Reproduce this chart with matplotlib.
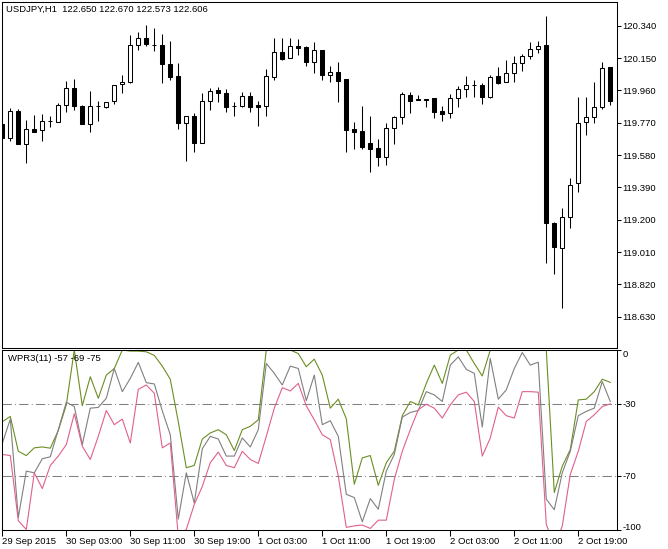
import matplotlib
matplotlib.use('Agg')
import matplotlib.pyplot as plt
import numpy as np

symbol_title = "USDJPY,H1  122.650 122.670 122.573 122.606"
wpr_title = "WPR3(11) -57 -69 -75"

opens = [119.762, 119.678, 119.839, 119.643, 119.733, 119.725, 119.781, 119.776, 119.874, 119.972,
         119.868, 119.761, 119.868, 119.864, 119.898, 119.996, 120.011, 120.227, 120.266, 120.229,
         120.227, 120.113, 120.043, 119.766, 119.809, 119.653, 119.899, 119.962, 119.943, 119.871,
         119.870, 119.927, 119.874, 119.870, 120.040, 120.184, 120.152, 120.221, 120.213, 120.128,
         120.197, 120.050, 120.066, 120.027, 119.733, 119.721, 119.649, 119.620, 119.570, 119.737,
         119.802, 119.933, 119.909, 119.909, 119.915, 119.839, 119.825, 119.913, 119.967, 119.993,
         119.992, 119.923, 120.044, 120.007, 120.060, 120.119, 120.162, 120.202, 120.227, 119.182,
         119.032, 119.214, 119.414, 119.775, 119.806, 119.861, 120.096]
highs = [119.780, 119.855, 119.851, 119.786, 119.815, 119.821, 119.809, 119.886, 120.017, 120.027,
         119.874, 119.956, 119.899, 119.890, 119.992, 120.050, 120.285, 120.301, 120.344, 120.325,
         120.289, 120.250, 120.119, 119.812, 119.825, 119.943, 119.976, 119.982, 119.966, 119.890,
         119.952, 119.952, 119.898, 120.086, 120.266, 120.266, 120.266, 120.262, 120.219, 120.242,
         120.197, 120.103, 120.127, 120.027, 119.772, 119.870, 119.811, 119.673, 119.766, 119.811,
         119.952, 119.952, 119.933, 119.909, 119.915, 119.868, 119.937, 119.986, 120.044, 120.021,
         120.002, 120.050, 120.098, 120.138, 120.162, 120.174, 120.246, 120.248, 120.399, 119.185,
         119.267, 119.443, 119.923, 119.923, 120.011, 120.128, 120.096]
lows = [119.668, 119.664, 119.643, 119.532, 119.717, 119.664, 119.747, 119.772, 119.831, 119.846,
        119.761, 119.717, 119.782, 119.858, 119.878, 119.943, 120.002, 120.197, 120.221, 120.191,
        120.002, 120.021, 119.733, 119.545, 119.600, 119.653, 119.845, 119.890, 119.831, 119.811,
        119.864, 119.835, 119.752, 119.811, 120.021, 120.138, 120.152, 120.168, 120.105, 120.064,
        120.021, 120.007, 119.893, 119.600, 119.616, 119.616, 119.482, 119.517, 119.522, 119.645,
        119.762, 119.827, 119.902, 119.864, 119.800, 119.780, 119.799, 119.864, 119.919, 119.919,
        119.878, 119.913, 119.999, 120.007, 120.011, 120.074, 120.143, 120.180, 118.944, 118.879,
        118.679, 119.150, 119.365, 119.698, 119.770, 119.849, 119.877]
closes = [119.678, 119.839, 119.643, 119.733, 119.717, 119.780, 119.779, 119.874, 119.972, 119.870,
          119.761, 119.868, 119.867, 119.890, 119.992, 120.011, 120.227, 120.266, 120.231, 120.227,
          120.113, 120.040, 119.766, 119.809, 119.653, 119.899, 119.958, 119.946, 119.864, 119.869,
          119.927, 119.864, 119.864, 120.044, 120.184, 120.144, 120.221, 120.211, 120.125, 120.197,
          120.050, 120.066, 120.015, 119.727, 119.717, 119.629, 119.616, 119.570, 119.737, 119.802,
          119.937, 119.899, 119.902, 119.902, 119.835, 119.819, 119.915, 119.967, 119.992, 119.991,
          119.923, 120.040, 120.005, 120.062, 120.121, 120.162, 120.202, 120.224, 119.179, 119.038,
          119.214, 119.404, 119.770, 119.806, 119.862, 120.090, 119.899]

wpr_olive = [-40, -37, -56.4, -58.8, -54.5, -54, -54.7, -44.8, -30.6, 0,
             -31, -14.9, -26.9, -14, -10.3, 0, -0.6, -0.6, -1, -3,
             -9, -16.3, -40, -65.6, -64.3, -49.6, -46.2, -44.4, -47.2, -56,
             -44.4, -42.5, -38.9, 0, 0, 0, 0, -2, -9.3, -5.1,
             -14, -32.4, -27.4, -38.3, -74.8, -60.1, -58.8, -75.4, -62.8, -56.4,
             -36.6, -28.7, -30.6, -18.6, -8.4, -18.6, -2.9, 0, 0, -7.5,
             -14.5, 0, 0, 0, 0, 0, 0, 0, 0, -79.4,
             -64.7, -55.5, -27.8, -27.4, -23.2, -16.3, -18]
wpr_gray = [-52, -38.5, -93.3, -67.5, -68.4, -60.6, -59.5, -44.4, -29.1, -31.5,
            -52.7, -32.4, -32, -26.9, -10.3, -23.2, -15.8, -6.9, -18.2, -18.9,
            -33.9, -47.2, -94.2, -68.4, -85.3, -55, -48.1, -49.6, -59.1, -59.1,
            -49, -54, -44.4, -7.5, -13, -19.5, -9, -10.3, -28.2, -14,
            -41.6, -39.4, -48.1, -80.4, -82.2, -95.7, -82.8, -88.7, -67.5, -58.2,
            -37.4, -34.8, -33.7, -23.2, -25, -28.7, -8.4, -3.8, -10.8, -13,
            -42.9, -4.7, -27.4, -22.2, -10.3, -1.4, -8.4, -6.8, -83.1, -89,
            -68.4, -56.4, -36.6, -34.2, -32.4, -17.6, -28.7]
wpr_pink = [-58.2, -58.8, -95.1, -100, -68.4, -77.2, -64.3, -59.1, -52.7, -35.5,
            -53.6, -61, -48.1, -33.7, -41.6, -38.5, -51.8, -21.9, -19.5, -24.1,
            -54.5, -51.8, -104, -100, -86, -76, -62.8, -56.9, -64.3, -65.6,
            -56.4, -61, -63.2, -48.1, -32.4, -21, -22.8, -18.6, -31.1, -38.9,
            -47.2, -49.9, -70.2, -98.8, -98, -97.5, -99.4, -94.8, -94.8, -72.1,
            -56.4, -44.4, -33.3, -30.2, -32.4, -37.9, -30.6, -25, -23.5, -28.7,
            -59.1, -49, -31.8, -36.6, -37.9, -23.2, -23.2, -23.5, -97, -110,
            -98, -69.3, -56.4, -39.8, -36.1, -31.5, -30]

price_ticks = [120.340, 120.150, 119.960, 119.770, 119.580, 119.390, 119.200, 119.010, 118.820, 118.630]
wpr_ticks = [0, -30, -70, -100]
wpr_levels = [-30, -70]
time_tick_pos = [0, 8, 16, 24, 32, 40, 48, 56, 64, 72]
time_tick_labels = ["29 Sep 2015", "30 Sep 03:00", "30 Sep 11:00", "30 Sep 19:00", "1 Oct 03:00",
                    "1 Oct 11:00", "1 Oct 19:00", "2 Oct 03:00", "2 Oct 11:00", "2 Oct 19:00"]

plt.rcParams['font.family'] = ['Liberation Sans', 'DejaVu Sans']
FS = 6.8
LW = 0.75

W, H = 668, 549
fig = plt.figure(figsize=(W / 100, H / 100), dpi=100)
fig.patch.set_facecolor('white')


def axrect(l, t, r, b):
    return [l / W, 1 - b / H, (r - l) / W, (b - t) / H]


ax1 = fig.add_axes(axrect(2, 2.3, 617, 348))
ax2 = fig.add_axes(axrect(2, 350, 617, 529.5))

x = np.arange(len(opens))
o = np.array(opens); h = np.array(highs); l = np.array(lows); c = np.array(closes)
up = c >= o

ax1.vlines(x, l, h, color='black', lw=LW, zorder=1)
ax1.bar(x, np.abs(c - o), bottom=np.minimum(o, c), width=0.55,
        color=np.where(up, 'white', 'black'), edgecolor='black', linewidth=LW, zorder=2)

xl = (-0.0375, 76.84)
ax1.set_xlim(*xl)
ax1.set_ylim(118.446, 120.478)
ax1.set_xticks([])
ax1.yaxis.tick_right()
ax1.set_yticks(price_ticks)
ax1.set_yticklabels([f"{v:.3f}" for v in price_ticks])
ax1.tick_params(axis='y', direction='out', length=3, width=LW, pad=1, labelsize=FS)

fig.text(6 / W, 1 - 9.5 / H, symbol_title, ha='left', va='center', fontsize=FS)

ax2.plot(x, wpr_olive, color='#6B8E23', lw=0.8, zorder=2)
ax2.plot(x, wpr_gray, color='#808080', lw=0.8, zorder=2)
ax2.plot(x, wpr_pink, color='#E0608F', lw=0.8, zorder=2)
for lv in wpr_levels:
    ax2.axhline(lv, color='#808080', lw=LW, ls=(0, (9, 3, 1, 3)), zorder=1)

ax2.set_xlim(*xl)
ax2.set_ylim(-100, 0)
ax2.yaxis.tick_right()
ax2.set_yticks(wpr_ticks)
ax2.set_yticklabels([str(v) for v in wpr_ticks])
ax2.tick_params(axis='y', direction='out', length=3, width=LW, pad=1, labelsize=FS)
ax2.set_xticks(time_tick_pos)
ax2.set_xticklabels(time_tick_labels)
ax2.tick_params(axis='x', direction='out', length=4, width=LW, pad=1.5, labelsize=FS)
for lab in ax2.get_xticklabels():
    lab.set_horizontalalignment('left')
for tk in ax2.yaxis.get_major_ticks():
    v = tk.get_loc()
    if v == 0:
        tk.label2.set_verticalalignment('top')
    elif v == -100:
        tk.label2.set_verticalalignment('baseline')

ax2.text(6 / 615, 1 - 8.5 / 179.5, wpr_title, transform=ax2.transAxes,
         ha='left', va='center', fontsize=FS)

for ax in (ax1, ax2):
    for s in ax.spines.values():
        s.set_color('black')
        s.set_linewidth(LW)
        s.set_zorder(5)

fig.savefig('out.png', dpi=100)
